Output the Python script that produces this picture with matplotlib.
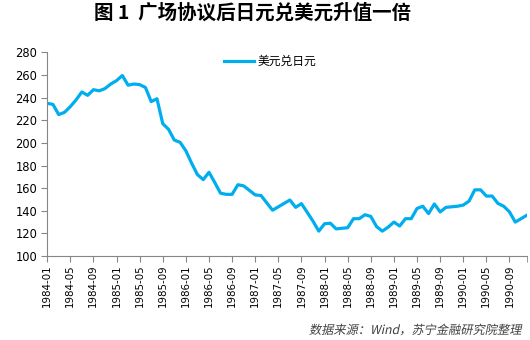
import matplotlib
matplotlib.use("Agg")
import matplotlib.pyplot as plt
from matplotlib.textpath import TextPath
from matplotlib.patches import PathPatch
from matplotlib.font_manager import FontProperties
from matplotlib.transforms import Affine2D
import numpy as np

plt.rcParams['font.family'] = ['DejaVu Sans', 'Noto Sans CJK SC']

# 月末美元兑日元, 1984-01 ~ 1990-12
rate_1984 = [235, 234, 225, 227, 232, 238, 245, 242, 247, 246, 248, 252]
rate_1985 = [255, 259.5, 251, 252, 251.5, 249, 236.5, 239, 217, 212, 202.5, 200.5]
rate_1986 = [193, 182, 172, 167.5, 174, 165, 155.5, 154.5, 154.5, 163, 162, 158]
rate_1987 = [154, 153.5, 147, 140.5, 143.5, 146.5, 149.5, 143, 146.3, 138.6, 130.8, 122]
rate_1988 = [128.5, 129, 124, 124.5, 125, 133, 133, 136.5, 135, 126, 122, 125.5]
rate_1989 = [130, 126.5, 133, 133, 142, 144, 137.5, 146, 139, 143, 143.5, 144]
rate_1990 = [145, 148.5, 158.5, 158.5, 153, 153, 146.5, 144, 139, 130, 133, 136]

years = list(range(1984, 1991))
months = [f"{y}-{m:02d}" for y in years for m in range(1, 13)]
rates = rate_1984 + rate_1985 + rate_1986 + rate_1987 + rate_1988 + rate_1989 + rate_1990

title = "图 1  广场协议后日元兑美元升值一倍"
series_name = "美元兑日元"
source = "数据来源：Wind，苏宁金融研究院整理"

fig = plt.figure(figsize=(5.3, 3.4), dpi=100)
ax = fig.add_axes([0.089, 0.247, 0.905, 0.599])

x = np.arange(len(rates))
ax.plot(x, rates, color='#00AEEF', lw=2.3, label=series_name, solid_joinstyle='round')

ax.set_xlim(0, len(rates) - 1)
ax.set_ylim(100, 280)
ax.set_yticks(range(100, 281, 20))
ax.set_xticks(x[::4])
ax.set_xticklabels(months[::4], rotation=90, fontsize=7.4, family='DejaVu Sans')
ax.set_xticks([len(rates) - 1], minor=True)
ax.tick_params(axis='y', labelsize=8.3, length=4, color='#868686', pad=3)
ax.tick_params(axis='x', which='both', length=4, color='#868686', pad=2)

for s in ['top', 'right']:
    ax.spines[s].set_visible(False)
for s in ['left', 'bottom']:
    ax.spines[s].set_color('#868686')
    ax.spines[s].set_linewidth(0.8)

leg = ax.legend(loc='upper center', bbox_to_anchor=(0.465, 1.04), frameon=False,
                prop={'family': ['Noto Sans CJK SC'], 'size': 8.5},
                handlelength=2.6, handletextpad=0.3)

fig.text(0.477, 0.962, title, ha='center', va='center', fontsize=14,
         fontweight='bold', family=['Noto Sans CJK SC', 'DejaVu Sans'])

# 斜体来源注释 (CJK 字体无斜体, 用倾斜路径)
fp = FontProperties(family=['Noto Sans CJK SC'], size=8.8)
tp = TextPath((0, 0), source, prop=fp)
bb = tp.get_extents()
px_per_pt = fig.dpi / 72.0
tr = (Affine2D().translate(-bb.x1, 0).skew_deg(12, 0).scale(px_per_pt)
      .translate(521, 340 - 334))
fig.patches.append(PathPatch(tp, transform=tr, color='#404040', lw=0,
                             figure=fig))

fig.savefig('out.png', dpi=100)
